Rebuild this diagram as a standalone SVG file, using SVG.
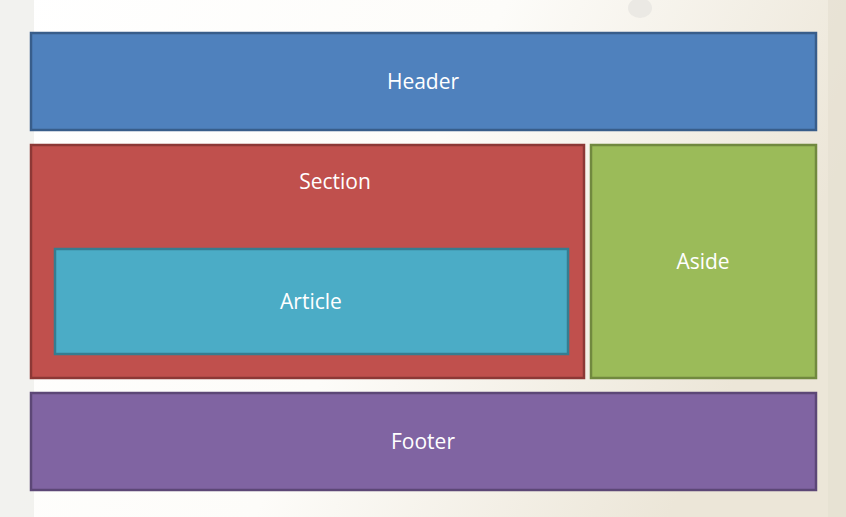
<svg xmlns="http://www.w3.org/2000/svg" width="846" height="517" viewBox="0 0 846 517">
<defs>
<linearGradient id="bg" x1="0" y1="0" x2="1" y2="0.3">
<stop offset="0" stop-color="#ffffff"/>
<stop offset="0.55" stop-color="#fdfcf9"/>
<stop offset="1" stop-color="#ece6d8"/>
</linearGradient>
<style>
.lbl{font-family:"Open Sans","Liberation Sans",sans-serif;font-size:21px;fill:#ffffff;text-anchor:middle}
.box{stroke-width:2.5}
</style>
</defs>
<rect x="0" y="0" width="846" height="517" fill="url(#bg)"/>
<rect x="0" y="0" width="34" height="517" fill="#efefeb" opacity="0.8"/>
<rect x="828" y="0" width="18" height="517" fill="#e6e0d2" opacity="0.7"/>
<ellipse cx="640" cy="8" rx="12" ry="10" fill="#e6e4e0" opacity="0.7"/>
<g id="header">
<rect class="box" x="31" y="33" width="785" height="97" fill="#4f81bd" stroke="#385d8a"/>
<text class="lbl" x="423" y="89">Header</text>
</g>
<g id="section">
<rect class="box" x="31" y="145" width="553" height="233" fill="#c0504d" stroke="#8c3836"/>
<text class="lbl" x="335" y="189">Section</text>
</g>
<g id="article">
<rect class="box" x="55" y="249" width="513" height="105" fill="#4bacc6" stroke="#357d91"/>
<text class="lbl" x="311" y="309">Article</text>
</g>
<g id="aside">
<rect class="box" x="591" y="145" width="225" height="233" fill="#9bbb59" stroke="#71893f"/>
<text class="lbl" x="703" y="269">Aside</text>
</g>
<g id="footer">
<rect class="box" x="31" y="393" width="785" height="97" fill="#8064a2" stroke="#5c4776"/>
<text class="lbl" x="423" y="449">Footer</text>
</g>
<g id="connectors"/>
</svg>
